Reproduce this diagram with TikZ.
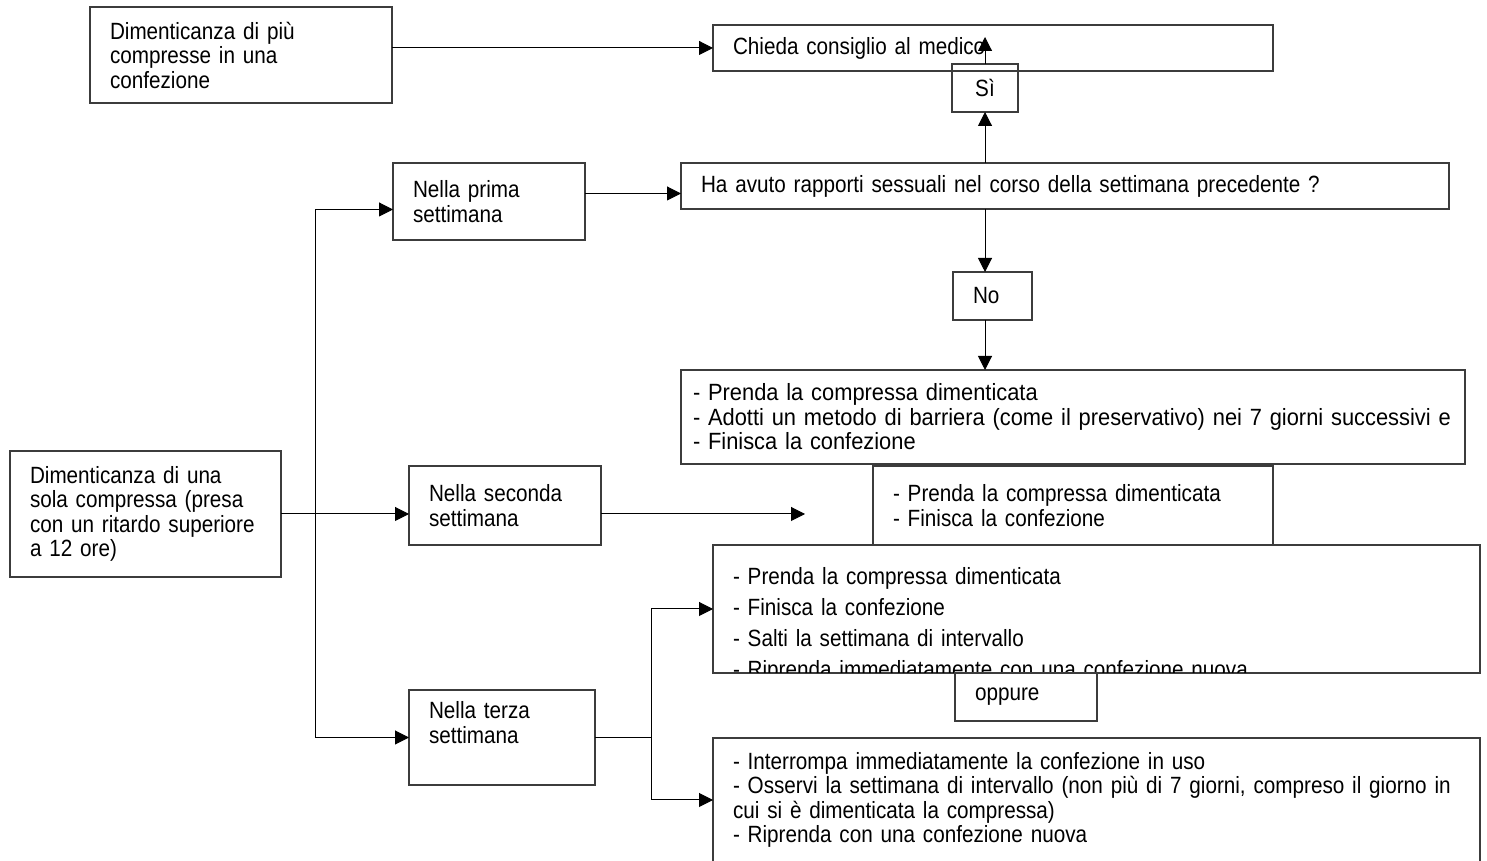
\documentclass[tikz,border=0pt]{standalone}
\usepackage{fontspec}
\setmainfont{Liberation Sans}[FakeStretch=0.88]
\usetikzlibrary{arrows.meta}

\begin{document}
\begin{tikzpicture}[x=1pt,y=1pt,
  boxNode/.style={draw=drawColor,line width=1.2pt,rectangle,inner xsep=20pt,inner ysep=0pt,outer sep=0pt,align=left,font=\fontsize{23.5}{24.5}\selectfont},
  connLine/.style={draw=lineColor,line width=1pt},
  arrLine/.style={connLine,-{Triangle[length=14pt,width=14pt]}}]
\definecolor{fillColor}{RGB}{255,255,255}
\definecolor{drawColor}{RGB}{60,60,60}
\definecolor{lineColor}{RGB}{0,0,0}
\path[use as bounding box,fill=fillColor] (0,0) rectangle (1487,861);

% boxes
\node[boxNode,text width=262pt,minimum height=96pt] (piuComp) at (241,806) {Dimenticanza di più\\compresse in una\\confezione};
\node[boxNode,text width=520pt,minimum height=46pt] (medico) at (993,813) {Chieda consiglio al medico};
\node[boxNode,text width=26pt,minimum height=48pt,align=center] (si) at (985,773) {Sì};
\node[boxNode,text width=728pt,minimum height=46pt] (rapporti) at (1065,675) {Ha avuto rapporti sessuali nel corso della settimana precedente ?};
\node[boxNode,text width=152pt,minimum height=77pt] (prima) at (489,659.5) {Nella prima\\settimana};
\node[boxNode,text width=39pt,minimum height=48pt] (no) at (992.5,565) {No};
\node[boxNode,inner xsep=12pt,text width=760pt,minimum height=94pt,font=\fontsize{23.5}{24.5}\selectfont\addfontfeature{FakeStretch=0.93}] (primaAzioni) at (1073,444) {- Prenda la compressa dimenticata\\- Adotti un metodo di barriera (come il preservativo) nei 7 giorni successivi e\\- Finisca la confezione};
\node[boxNode,text width=231pt,minimum height=126pt] (unaComp) at (145.5,347) {Dimenticanza di una\\sola compressa (presa\\con un ritardo superiore\\a 12 ore)};
\node[boxNode,text width=152pt,minimum height=79pt] (seconda) at (505,355.5) {Nella seconda\\settimana};
\node[boxNode,text width=360pt,minimum height=79pt] (secondaAzioni) at (1073,355.5) {- Prenda la compressa dimenticata\\- Finisca la confezione};
\node[boxNode,minimum width=767pt,minimum height=128pt] (terzaSalta) at (1096.5,252) {};
\begin{scope}
\clip (terzaSalta.south west) rectangle (terzaSalta.north east);
\node[boxNode,draw=none,text width=727pt,inner ysep=22pt,anchor=north west,font=\fontsize{23.5}{31}\selectfont] (terzaSaltaTesto) at (terzaSalta.north west) {- Prenda la compressa dimenticata\\- Finisca la confezione\\- Salti la settimana di intervallo\\- Riprenda immediatamente con una confezione nuova};
\end{scope}
\node[boxNode,text width=102pt,minimum height=48pt] (oppure) at (1026,164) {oppure};
\node[boxNode,text width=146pt,minimum height=95pt,text depth=55pt] (terza) at (502,123.5) {Nella terza\\settimana};
\node[boxNode,text width=727pt,inner ysep=14pt,text depth=150pt,anchor=north] (terzaInterrompi) at (1096.5,123) {- Interrompa immediatamente la confezione in uso\\- Osservi la settimana di intervallo (non più di 7 giorni, compreso il giorno in\\cui si è dimenticata la compressa)\\- Riprenda con una confezione nuova};

% connectors
\draw[arrLine] (piuComp.east |- medico.west) -- (medico.west);
\draw[arrLine] (si.south |- rapporti.north) -- (si.south);
\coordinate (siTip) at (985,824);
\draw[arrLine] (si.north) -- (siTip);
\coordinate (primaOut) at ([yshift=8pt]prima.east);
\draw[arrLine] (primaOut) -- (primaOut -| rapporti.west);
\draw[arrLine] (rapporti.south -| si.south) -- (no.north -| si.south);
\draw[arrLine] (no.south -| si.south) -- (primaAzioni.north -| si.south);

\coordinate (split) at (315,347);
\coordinate (primaIn) at ([yshift=-8pt]prima.west);
\draw[connLine] (unaComp.east) -- (split);
\draw[connLine] (split |- primaIn) -- (split |- terza.west);
\draw[arrLine] (split |- primaIn) -- (primaIn);
\draw[arrLine] (split) -- (split -| seconda.west);
\draw[arrLine] (split |- terza.west) -- (terza.west);

\coordinate (secondaEnd) at (805,347);
\draw[arrLine] (seconda.east |- secondaEnd) -- (secondaEnd);

\coordinate (fork) at (651,123.5);
\coordinate (interrompiIn) at ([yshift=-62pt]terzaInterrompi.north west);
\draw[connLine] (terza.east) -- (fork);
\draw[connLine] (fork |- terzaSalta.west) -- (fork |- interrompiIn);
\draw[arrLine] (fork |- terzaSalta.west) -- (terzaSalta.west);
\draw[arrLine] (fork |- interrompiIn) -- (interrompiIn);
\end{tikzpicture}
\end{document}
